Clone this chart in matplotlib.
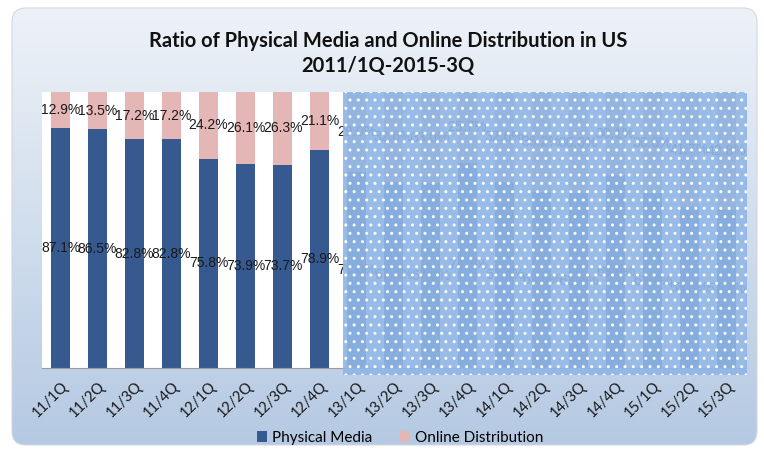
import numpy as np
import matplotlib
matplotlib.use('agg')
import matplotlib.pyplot as plt
from matplotlib.patches import FancyBboxPatch, Rectangle, Patch

quarters = ['11/1Q', '11/2Q', '11/3Q', '11/4Q', '12/1Q', '12/2Q', '12/3Q', '12/4Q',
            '13/1Q', '13/2Q', '13/3Q', '13/4Q', '14/1Q', '14/2Q', '14/3Q', '14/4Q',
            '15/1Q', '15/2Q', '15/3Q']
physical = [87.1, 86.5, 82.8, 82.8, 75.8, 73.9, 73.7, 78.9,
            71.0, 67.4, 67.0, 74.3, 67.4, 63.8, 63.4, 69.9, 63.4, 58.3, 57.2]
online = [12.9, 13.5, 17.2, 17.2, 24.2, 26.1, 26.3, 21.1,
          29.0, 32.6, 33.0, 25.7, 32.6, 36.2, 36.6, 30.1, 36.6, 41.7, 42.8]

title = 'Ratio of Physical Media and Online Distribution in US\n2011/1Q-2015-3Q'

W, H = 764, 450
fig = plt.figure(figsize=(W / 100, H / 100), dpi=100, facecolor='white')

# rounded gradient background box
bg = fig.add_axes([0, 0, 1, 1], zorder=-1)
bg.set_xlim(0, W)
bg.set_ylim(H, 0)
bg.axis('off')
box = FancyBboxPatch((12, 8), 745, 437, boxstyle='round,pad=0,rounding_size=14',
                     facecolor='none', edgecolor='#d0d8e2', linewidth=0.8)
bg.add_patch(box)
grad = np.linspace(0, 1, 256).reshape(-1, 1)
top = np.array([0.93, 0.95, 0.97])
bot = np.array([0.71, 0.79, 0.89])
img = top + (bot - top) * grad[:, :, None]
im = bg.imshow(img, extent=[12, 757, 445, 8], aspect='auto')
im.set_clip_path(box)

# main plot
ax = fig.add_axes([42 / W, 1 - 368 / H, 703 / W, 276 / H])
ax.set_facecolor('white')
x = np.arange(len(quarters))
phys = np.array(physical) / 100
onl = np.array(online) / 100
b1 = ax.bar(x, phys, 0.51, color='#36598f', zorder=2)
b2 = ax.bar(x, onl, 0.51, bottom=phys, color='#e4b6b5', zorder=2)
for i in range(len(quarters)):
    ax.text(x[i], phys[i] / 2, '{:.1f}%'.format(physical[i]), ha='center', va='center',
            fontsize=10, family='Liberation Sans', color='#1a1a1a', zorder=3)
    ax.text(x[i], phys[i] + onl[i] / 2, '{:.1f}%'.format(online[i]), ha='center', va='center',
            fontsize=10, family='Liberation Sans', color='#1a1a1a', zorder=3)

ax.set_xlim(-0.5, len(quarters) - 0.5)
ax.set_ylim(0, 1)
ax.set_yticks([])
ax.set_xticks(x)
ax.set_xticklabels(quarters, rotation=45, ha='right', rotation_mode='anchor',
                   fontsize=10.5, family='Lato', color='#1a1a1a')
ax.tick_params(axis='x', length=0, pad=8)
for s in ['top', 'right', 'left']:
    ax.spines[s].set_visible(False)
ax.spines['bottom'].set_color('#9a9a9a')

# dotted blue panel covering the later quarters
cover = Rectangle((343 / W, 1 - 375 / H), 404 / W, 283 / H, transform=fig.transFigure,
                  facecolor=(0.56, 0.71, 0.90, 0.92), edgecolor='white', linewidth=0,
                  hatch='..', zorder=5)
fig.add_artist(cover)

fig.text(388 / W, 1 - 53.5 / H, title, ha='center', va='center', fontsize=14.5,
         fontweight='bold', family='Lato', linespacing=1.35, color='#111111')

handles = [Patch(facecolor='#36598f'), Patch(facecolor='#e4b6b5')]
fig.legend(handles, ['Physical Media', 'Online Distribution'], loc='center',
           bbox_to_anchor=(400 / W, 1 - 438 / H), ncol=2, frameon=False,
           prop={'family': 'Lato', 'size': 11}, handlelength=0.7, handleheight=0.7,
           handletextpad=0.3, columnspacing=1.8)

fig.savefig('out.png', dpi=100, facecolor='white')
